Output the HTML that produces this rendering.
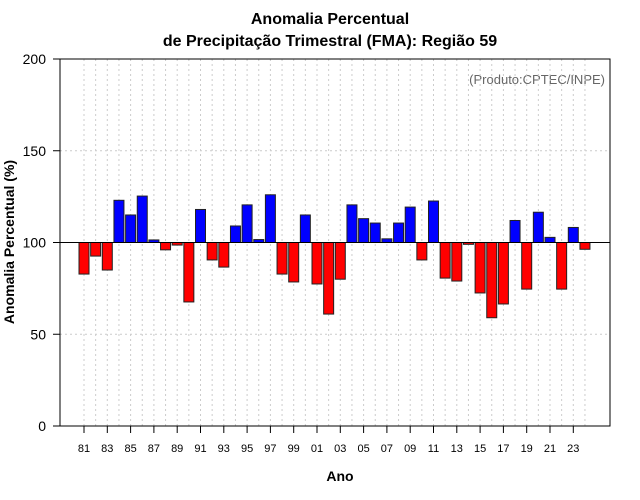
<!DOCTYPE html>
<html><head><meta charset="utf-8"><style>body{margin:0;background:#fff}svg{display:block;font-family:"Liberation Sans",sans-serif}</style></head>
<body>
<svg id="c" width="640" height="500">
<text x="330" y="24" text-anchor="middle" font-size="16" font-weight="bold">Anomalia Percentual</text>
<text x="330" y="46" text-anchor="middle" font-size="16" font-weight="bold">de Precipitação Trimestral (FMA): Região 59</text>
<text x="605" y="84" text-anchor="end" font-size="13" fill="#666">(Produto:CPTEC/INPE)</text>
<text x="340" y="481" text-anchor="middle" font-size="14" font-weight="bold">Ano</text>
<text transform="translate(14,242) rotate(-90)" text-anchor="middle" font-size="14" font-weight="bold">Anomalia Percentual (%)</text>
<g id="grid"></g><g id="bars"></g><g id="axes"></g>
<rect x="60" y="59" width="550" height="367" fill="none" stroke="#000"/>
</svg>
<script>
const years=[81,82,83,84,85,86,87,88,89,90,91,92,93,94,95,96,97,98,99,0,1,2,3,4,5,6,7,8,9,10,11,12,13,14,15,16,17,18,19,20,21,22,23,24];
const values=[82.8,92.6,85,123,115,125.3,101.4,96,98.6,67.6,118,90.5,86.6,109,120.5,101.6,126,82.8,78.5,115,77.4,61,80,120.5,113,110.6,102,110.6,119.3,90.5,122.6,80.6,79,99,72.5,59,66.5,112,74.6,116.5,102.8,74.6,108.2,96.3];
const yTicks=[0,50,100,150,200];
const NS='http://www.w3.org/2000/svg';
const X=i=>84+i*11.65, Y=v=>426-v*1.835;
function mk(t,a,p){const e=document.createElementNS(NS,t);for(const k in a)e.setAttribute(k,a[k]);p.appendChild(e);return e;}
const g=document.getElementById('grid'),b=document.getElementById('bars'),ax=document.getElementById('axes');
years.forEach((y,i)=>{const l=mk('line',{x1:X(i),x2:X(i),y1:59,y2:426,stroke:'#ccc','stroke-dasharray':'2,3'},g);

});
yTicks.forEach(v=>{const l=mk('line',{x1:60,x2:610,y1:Y(v),y2:Y(v),stroke:'#ccc','stroke-dasharray':'2,3'},g);


const t=mk('line',{x1:53,x2:60,y1:Y(v),y2:Y(v),stroke:'#000'},ax);


const tx=mk('text',{x:46,y:Y(v)+5,'text-anchor':'end','font-size':14},ax);tx.textContent=v;

});
values.forEach((v,i)=>{const y0=Y(100),y1=Y(v);const r=mk('rect',{x:X(i)-5,y:Math.min(y0,y1),width:10,height:Math.max(Math.abs(y1-y0),0.8),fill:v>=100?'#0000ff':'#ff0000',stroke:'#222','stroke-width':1},b);

});
const base=mk('line',{x1:60,x2:610,y1:Y(100),y2:Y(100),stroke:'#000'},b);


years.forEach((y,i)=>{if(i%2)return;const t=mk('line',{x1:X(i),x2:X(i),y1:426,y2:433,stroke:'#000'},ax);


const tx=mk('text',{x:X(i),y:452,'text-anchor':'middle','font-size':11},ax);tx.textContent=String(y).padStart(2,'0');

});
</script>
</body></html>
